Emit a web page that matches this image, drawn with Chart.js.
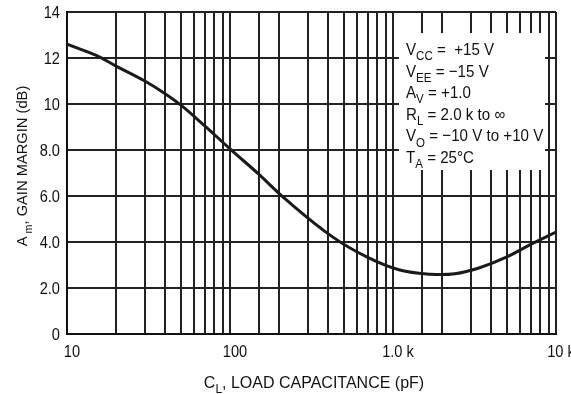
<!DOCTYPE html>
<html>
<head>
<meta charset="utf-8">
<script src="https://cdn.jsdelivr.net/npm/chart.js@4/dist/chart.umd.min.js"></script>
<style>
  html, body { margin: 0; padding: 0; background: #fff; }
  #wrap { width: 571px; height: 394px; }
</style>
</head>
<body>
<div id="wrap"><canvas id="gainChart" width="571" height="394"></canvas></div>
<script>
// load capacitance (pF) and gain margin (dB)
const capacitance = [10, 15, 20, 30, 40, 50, 70, 100, 150, 220, 430, 700, 1100, 1700, 2400, 3400, 5000, 7000, 10000];
const gainMargin  = [12.6, 12.12, 11.65, 11.0, 10.45, 9.95, 9.05, 8.05, 6.95, 5.85, 4.2, 3.33, 2.78, 2.6, 2.62, 2.88, 3.35, 3.9, 4.43];

const yTickValues = [0, 2, 4, 6, 8, 10, 12, 14];
const yTickLabels = ['0', '2.0', '4.0', '6.0', '8.0', '10', '12', '14'];
const xTickValues = [10, 100, 1000, 10000];
const xTickLabels = ['10', '100', '1.0 k', '10 k'];

const conditions = [
    [['V', 0], ['CC', 1], [' =  +15 V', 0]],
    [['V', 0], ['EE', 1], [' = \u221215 V', 0]],
    [['A', 0], ['V', 1], [' = +1.0', 0]],
    [['R', 0], ['L', 1], [' = 2.0 k to \u221e', 0]],
    [['V', 0], ['O', 1], [' = \u221210 V to +10 V', 0]],
    [['T', 0], ['A', 1], [' = 25\u00b0C', 0]]
];

const FONT = '"Liberation Sans", Arial, sans-serif';

// draw a string made of normal and subscript pieces, squeezed by sx
function drawParts(ctx, parts, x, y, size, align, sx) {
    const widths = parts.map(p => {
        ctx.font = (p[1] ? Math.round(size * 0.75) : size) + 'px ' + FONT;
        return ctx.measureText(p[0]).width;
    });
    const total = widths.reduce((a, b) => a + b, 0);
    ctx.save();
    ctx.translate(x, y);
    ctx.scale(sx, 1);
    let cx = align === 'center' ? -total / 2 : 0;
    parts.forEach((p, i) => {
        ctx.font = (p[1] ? Math.round(size * 0.75) : size) + 'px ' + FONT;
        ctx.fillText(p[0], cx, p[1] ? size * 0.3 : 0);
        cx += widths[i];
    });
    ctx.restore();
}

function drawSqueezed(ctx, text, x, y, size, align, sx) {
    ctx.save();
    ctx.translate(x, y);
    ctx.scale(sx, 1);
    ctx.font = size + 'px ' + FONT;
    ctx.textAlign = align;
    ctx.fillText(text, 0, 0);
    ctx.restore();
}

const extras = {
    id: 'extras',
    beforeDatasetsDraw(chart) {
        const ctx = chart.ctx;
        ctx.save();
        ctx.fillStyle = '#fff';
        ctx.fillRect(399, 33, 146, 137);
        ctx.fillStyle = '#111';
        ctx.textBaseline = 'alphabetic';
        ctx.textAlign = 'left';
        conditions.forEach((line, i) => {
            drawParts(ctx, line, 406, 55 + i * 21.6, 17, 'left', 0.89);
        });
        ctx.restore();
    },
    afterDraw(chart) {
        const ctx = chart.ctx;
        const xs = chart.scales.x, ys = chart.scales.y;
        ctx.save();
        ctx.fillStyle = '#111';
        ctx.textBaseline = 'alphabetic';
        xTickValues.forEach((v, i) => {
            drawSqueezed(ctx, xTickLabels[i], xs.getPixelForValue(v) + 5, 357, 17, 'center', 0.86);
        });
        ctx.textBaseline = 'middle';
        yTickValues.forEach((v, i) => {
            drawSqueezed(ctx, yTickLabels[i], 60, ys.getPixelForValue(v) + 1, 17, 'right', 0.86);
        });
        ctx.textBaseline = 'alphabetic';
        ctx.textAlign = 'left';
        drawParts(ctx, [['C', 0], ['L', 1], [', LOAD CAPACITANCE (pF)', 0]], 314, 388, 16, 'center', 1);
        ctx.translate(27, 166);
        ctx.rotate(-Math.PI / 2);
        drawParts(ctx, [['A', 0], [' m', 1], [', GAIN MARGIN (dB)', 0]], 0, 0, 15, 'center', 0.98);
        ctx.restore();
    }
};

new Chart(document.getElementById('gainChart').getContext('2d'), {
    type: 'line',
    data: {
        datasets: [{
            data: capacitance.map((c, i) => ({ x: c, y: gainMargin[i] })),
            borderColor: '#1a1a1a',
            borderWidth: 3,
            pointRadius: 0,
            tension: 0.4,
            fill: false
        }]
    },
    options: {
        responsive: false,
        animation: false,
        layout: { padding: { top: 12, right: 15, left: 0, bottom: 0 } },
        plugins: { legend: { display: false }, tooltip: { enabled: false } },
        scales: {
            x: {
                type: 'logarithmic',
                min: 10,
                max: 10000,
                afterFit: (scale) => { scale.height = 60; scale.paddingLeft = 0; scale.paddingRight = 0; },
                grid: { color: '#222', lineWidth: 2, drawTicks: false },
                border: { color: '#111', width: 2 },
                ticks: { display: false, autoSkip: false }
            },
            y: {
                min: 0,
                max: 14,
                afterFit: (scale) => { scale.width = 67; scale.paddingTop = 0; scale.paddingBottom = 0; },
                grid: { color: '#222', lineWidth: 2, drawTicks: false },
                border: { color: '#111', width: 2 },
                ticks: { display: false, stepSize: 2 }
            }
        }
    },
    plugins: [extras]
});
</script>
</body>
</html>
